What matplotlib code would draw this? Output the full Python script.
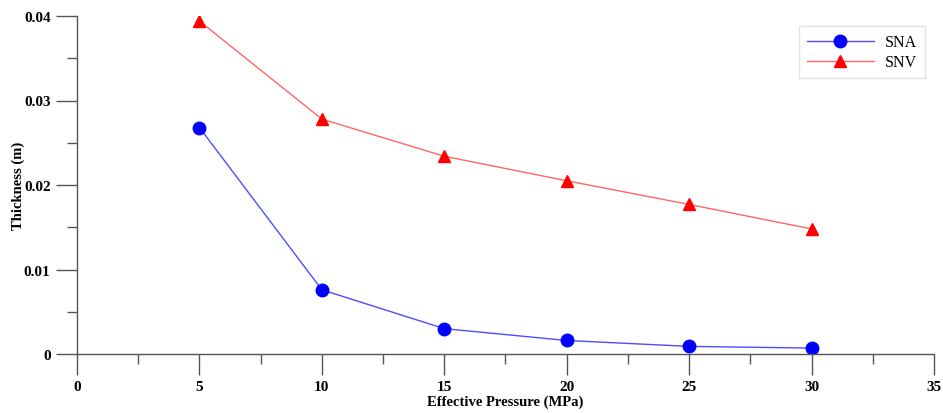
import matplotlib
matplotlib.use("Agg")
import matplotlib.pyplot as plt
from matplotlib.ticker import MultipleLocator

pressure = [5, 10, 15, 20, 25, 30]
sna = [0.0268, 0.0076, 0.0030, 0.0016, 0.0009, 0.0007]
snv = [0.0394, 0.0278, 0.0234, 0.0205, 0.0177, 0.0148]


def main():
  plt.rcParams['font.family'] = ['Liberation Serif', 'DejaVu Serif']

  fig = plt.figure(figsize=(9.43, 4.14), dpi=100)
  ax = fig.add_axes([77 / 943, 1 - 355 / 414, 857 / 943, 338 / 414])

  ax.plot(pressure, sna, color=(0.3, 0.3, 1.0), lw=1, marker='o', ms=9,
          mfc='#0000ff', mec='#0000ff', label='SNA')
  ax.plot(pressure, snv, color=(1.0, 0.4, 0.4), lw=1, marker='^', ms=8,
          mfc='#ff0000', mec='#ff0000', label='SNV')

  ax.set_xlim(0, 35)
  ax.set_ylim(0, 0.04)
  ax.xaxis.set_major_locator(MultipleLocator(5))
  ax.xaxis.set_minor_locator(MultipleLocator(2.5))
  ax.yaxis.set_major_locator(MultipleLocator(0.01))
  ax.yaxis.set_minor_locator(MultipleLocator(0.005))
  ax.set_yticks([0, 0.01, 0.02, 0.03, 0.04], ['0', '0.01', '0.02', '0.03', '0.04'])

  for s in ['top', 'right']:
    ax.spines[s].set_visible(False)
  for s in ['left', 'bottom']:
    ax.spines[s].set_color('#555555')
    ax.spines[s].set_linewidth(1)

  ax.tick_params(which='major', length=15, width=1, color='#555555', pad=4)
  ax.tick_params(which='minor', length=7, width=1, color='#555555')
  for lab in ax.get_xticklabels() + ax.get_yticklabels():
    lab.set_fontweight('bold')
    lab.set_fontsize(11)

  ax.set_xlabel('Effective Pressure (MPa)', fontsize=10.5, fontweight='bold', labelpad=1)
  ax.set_ylabel('Thickness (m)', fontsize=10.5, fontweight='bold', labelpad=-1)

  leg = ax.legend(loc='upper right', bbox_to_anchor=(0.9895, 0.970), borderaxespad=0,
                  fontsize=11.5, frameon=True, fancybox=False, edgecolor='#dddddd',
                  handlelength=4.2, handletextpad=0.7, borderpad=0.5,
                  labelspacing=0.25)
  leg.get_frame().set_linewidth(1)

  fig.savefig('out.png', dpi=100)


if __name__ == "__main__":
  main()
